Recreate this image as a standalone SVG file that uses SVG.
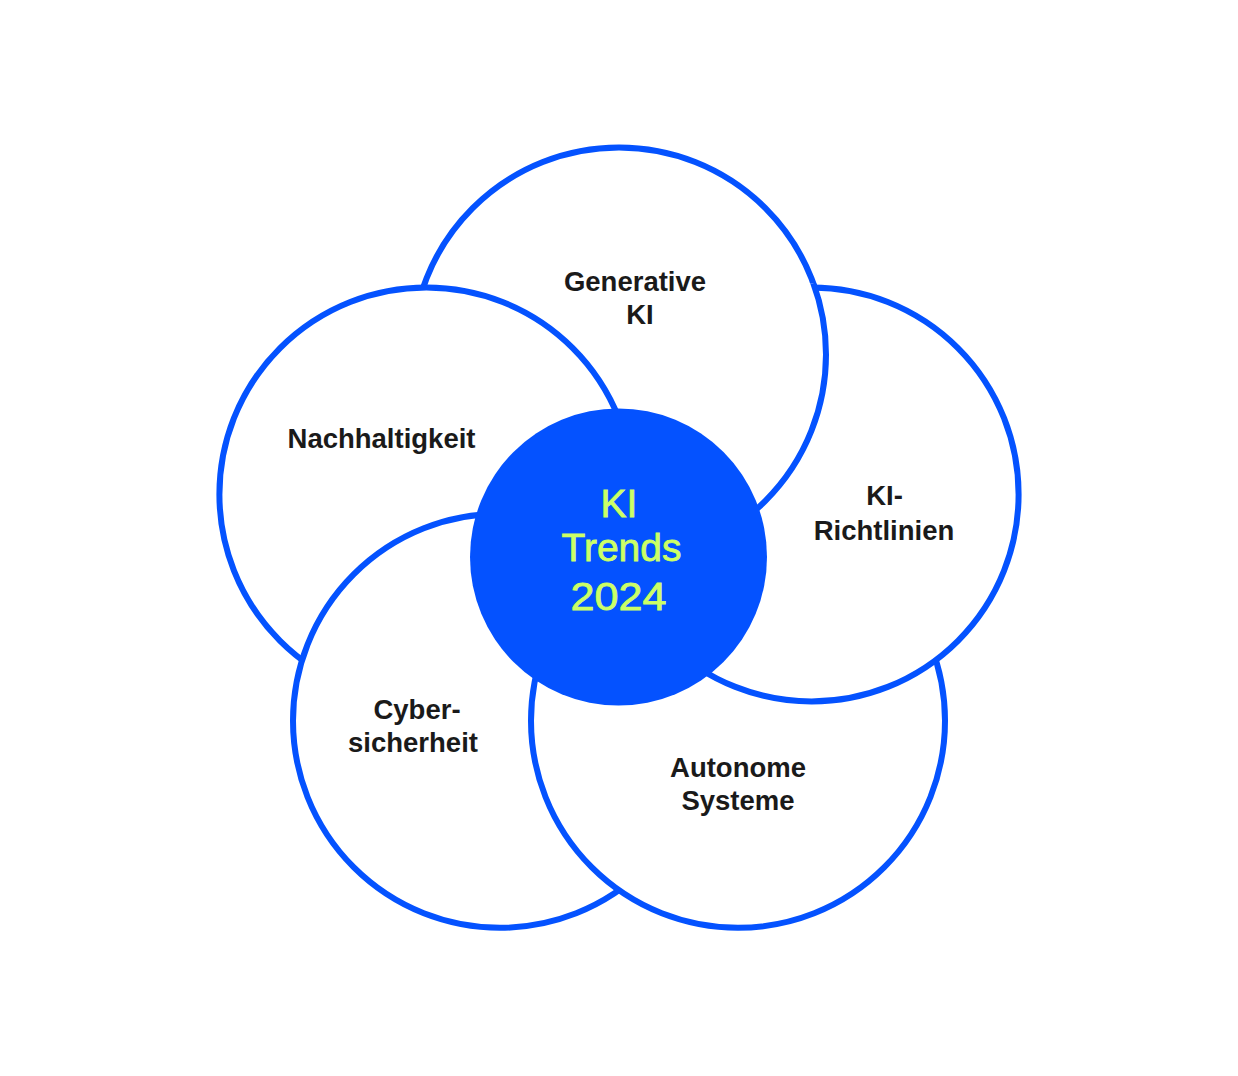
<svg xmlns="http://www.w3.org/2000/svg" xmlns:xlink="http://www.w3.org/1999/xlink" width="1238" height="1076" viewBox="0 0 1238 1076">
  <style>
    .ring { fill: #ffffff; stroke: #0452FF; stroke-width: 6; }
    .label { font-family: "Liberation Sans", Arial, sans-serif; font-weight: bold; font-size: 27.5px; fill: #1A1A1A; text-anchor: middle; }
    .core { fill: #0452FF; }
    .coretext { font-family: "Liberation Sans", Arial, sans-serif; font-size: 39px; fill: #CCFF66; stroke: #CCFF66; stroke-width: 0.8; text-anchor: middle; }
  </style>
  <defs>
    <clipPath id="clipR">
      <circle cx="811.6" cy="494.4" r="211"/>
    </clipPath>
  </defs>
  <rect width="1238" height="1076" fill="#ffffff"/>

  <g id="node-generative">
    <circle id="circle-generative" class="ring" cx="619" cy="354.5" r="207"/>
    <text class="label" x="635" y="291">Generative</text>
    <text class="label" x="640" y="324">KI</text>
  </g>

  <g id="node-nachhaltigkeit">
    <circle class="ring" cx="426.4" cy="494.4" r="207"/>
    <text class="label" x="381.5" y="448">Nachhaltigkeit</text>
  </g>

  <g id="node-cyber">
    <circle class="ring" cx="500" cy="720.8" r="207"/>
    <text class="label" x="417" y="718.5">Cyber-</text>
    <text class="label" x="413" y="752">sicherheit</text>
  </g>

  <g id="node-autonome">
    <circle class="ring" cx="738" cy="720.8" r="207"/>
    <text class="label" x="738" y="777">Autonome</text>
    <text class="label" x="738" y="810">Systeme</text>
  </g>

  <g id="node-richtlinien">
    <circle class="ring" cx="811.6" cy="494.4" r="207"/>
    <text class="label" x="884.5" y="505">KI-</text>
    <text class="label" x="884" y="539.5">Richtlinien</text>
  </g>

  <g id="overlap-generative-over-richtlinien">
    <use xlink:href="#circle-generative" href="#circle-generative" clip-path="url(#clipR)"/>
  </g>

  <g id="node-center">
    <circle class="core" cx="618.5" cy="557" r="148.5"/>
    <text class="coretext" x="619" y="516.7">KI</text>
    <text class="coretext" x="621.5" y="560.7">Trends</text>
    <text class="coretext" x="618.5" y="610" textLength="96" lengthAdjust="spacingAndGlyphs">2024</text>
  </g>
</svg>
